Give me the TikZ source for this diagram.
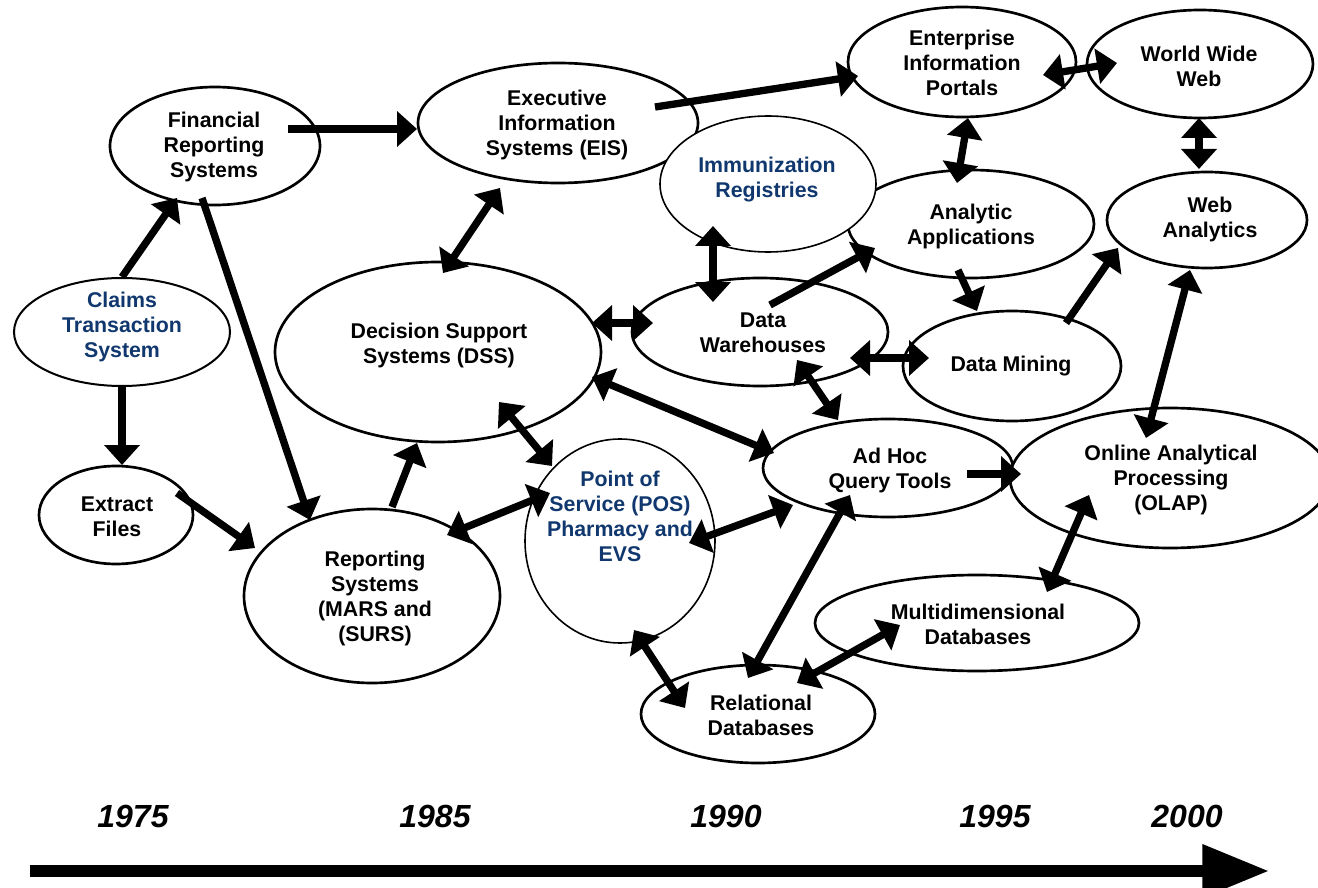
\documentclass[tikz,border=0pt]{standalone}
\usepackage{fontspec}
\setmainfont{Liberation Sans}
\usetikzlibrary{shapes.geometric,arrows.meta}
\definecolor{navy}{RGB}{16,56,110}
\tikzset{
  el/.style 2 args={ellipse, draw=black, fill=white, line width=2pt, inner sep=0pt,
    minimum width={#1*1.5pt}, minimum height={#2*1.5pt}},
  thin/.style={line width=1.2pt},
  lbl/.style={align=center, inner sep=0pt, font=\fontsize{16}{18.75}\selectfont\bfseries},
  blue/.style={text=navy},
  year/.style={inner sep=0pt, font=\fontsize{24}{28}\selectfont\bfseries\itshape},
  one/.style={line width=5.5pt, -{Triangle[length=15pt,width=26pt]}},
  two/.style={line width=5.5pt, {Triangle[length=15pt,width=26pt]}-{Triangle[length=15pt,width=26pt]}},
  timeline/.style={line width=8.5pt, -{Triangle[length=50pt,width=38pt]}}
}
\begin{document}
\begin{tikzpicture}[x=0.75pt,y=-0.75pt]
\useasboundingbox (0,0) rectangle (1318,888);
% ellipses
\node[el={105}{59}] (fin) at (215,146) {};
\node[el={108}{54}, line width=1.5pt] (claims) at (122,332) {};
\node[el={77}{49}] (extract) at (116,515) {};
\node[el={140}{60}] (eis) at (558,123) {};
\node[el={114}{55}] (eip) at (962,62) {};
\node[el={113}{54}] (www) at (1200,64) {};
\node[el={123}{54}] (ana) at (971,224) {};
\node[el={100}{48}] (weba) at (1207,220) {};
\node[el={108}{68}, thin] (imm) at (768,184) {};
\node[el={163}{90}] (dss) at (438,352) {};
\node[el={128}{54}] (dw) at (760,332) {};
\node[el={109}{55}] (dm) at (1012,366) {};
\node[el={125}{49}] (adhoc) at (888,468) {};
\node[el={160}{70}] (olap) at (1170,478) {};
\node[el={95}{102}, thin] (pos) at (620,541) {};
\node[el={128}{87}] (rep) at (372,596) {};
\node[el={162}{48}] (mdb) at (977,623) {};
\node[el={117}{49}] (rdb) at (758,714) {};
% labels
\node[lbl] (t-fin) at (214,147) {Financial\\Reporting\\Systems};
\node[lbl, blue] (t-claims) at (122,327) {Claims\\Transaction\\System};
\node[lbl] (t-extract) at (117,517) {Extract\\Files};
\node[lbl] (t-eis) at (557,125) {Executive\\Information\\Systems (EIS)};
\node[lbl, blue] (t-imm) at (767,180) {Immunization\\Registries};
\node[lbl] (t-eip) at (962,63) {Enterprise\\Information\\Portals};
\node[lbl] (t-www) at (1199,66) {World Wide\\Web};
\node[lbl] (t-ana) at (971,226) {Analytic\\Applications};
\node[lbl] (t-weba) at (1210,219) {Web\\Analytics};
\node[lbl] (t-dss) at (439,345) {Decision Support\\Systems (DSS)};
\node[lbl] (t-dw) at (763,333) {Data\\Warehouses};
\node[lbl] (t-dm) at (1011,366) {Data Mining};
\node[lbl] (t-adhoc) at (890,470) {Ad Hoc\\Query Tools};
\node[lbl] (t-olap) at (1171,480) {Online Analytical\\Processing\\(OLAP)};
\node[lbl, blue] (t-pos) at (620,516) {Point of\\Service (POS)\\Pharmacy and\\EVS};
\node[lbl] (t-rep) at (375,598) {Reporting\\Systems\\(MARS and\\(SURS)};
\node[lbl] (t-mdb) at (978,624) {Multidimensional\\Databases};
\node[lbl] (t-rdb) at (761,715) {Relational\\Databases};
% connectors
\draw[one] ([shift={(0,-55)}]claims.center) -- ([shift={(-38,52)}]fin.center);
\draw[one] ([shift={(-13,52)}]fin.center) -- ([shift={(-62,-76)}]rep.center);
\draw[one] ([shift={(0,55)}]claims.center) -- ([shift={(6,-50)}]extract.center);
\draw[one] ([shift={(61,-22)}]extract.center) -- ([shift={(-117,-48)}]rep.center);
\draw[one] ([shift={(73,-17)}]fin.center) -- ([shift={(-141,6)}]eis.center);
\draw[one] ([shift={(97,-16)}]eis.center) -- ([shift={(-104,14)}]eip.center);
\draw[two] ([shift={(5,-79)}]dss.center) -- ([shift={(-58,65)}]eis.center);
\draw[one] ([shift={(20,-89)}]rep.center) -- ([shift={(-21,91)}]dss.center);
\draw[two] ([shift={(61,50)}]dss.center) -- ([shift={(-68,-75)}]pos.center);
\draw[two] ([shift={(75,-61)}]rep.center) -- ([shift={(-70,-48)}]pos.center);
\draw[two] ([shift={(154,25)}]dss.center) -- ([shift={(-114,-15)}]adhoc.center);
\draw[two] ([shift={(154,-29)}]dss.center) -- ([shift={(-107,-9)}]dw.center);
\draw[two] ([shift={(-55,42)}]imm.center) -- ([shift={(-47,-30)}]dw.center);
\draw[one] ([shift={(10,-27)}]dw.center) -- ([shift={(-96,24)}]ana.center);
\draw[two] ([shift={(6,56)}]eip.center) -- ([shift={(-14,-41)}]ana.center);
\draw[two] ([shift={(81,13)}]eip.center) -- ([shift={(-83,-1)}]www.center);
\draw[two] ([shift={(-1,54)}]www.center) -- ([shift={(-8,-51)}]weba.center);
\draw[one] ([shift={(-13,46)}]ana.center) -- ([shift={(-35,-55)}]dm.center);
\draw[one] ([shift={(54,-43)}]dm.center) -- ([shift={(-89,28)}]weba.center);
\draw[two] ([shift={(90,26)}]dw.center) -- ([shift={(-83,-8)}]dm.center);
\draw[two] ([shift={(37,28)}]dw.center) -- ([shift={(-50,-48)}]adhoc.center);
\draw[one] ([shift={(79,6)}]adhoc.center) -- ([shift={(-149,-4)}]olap.center);
\draw[two] ([shift={(-24,-40)}]olap.center) -- ([shift={(-17,50)}]weba.center);
\draw[two] ([shift={(-81,17)}]olap.center) -- ([shift={(70,-31)}]mdb.center);
\draw[two] ([shift={(69,2)}]pos.center) -- ([shift={(-95,37)}]adhoc.center);
\draw[two] ([shift={(-38,27)}]adhoc.center) -- ([shift={(-10,-36)}]rdb.center);
\draw[two] ([shift={(14,89)}]pos.center) -- ([shift={(-73,-6)}]rdb.center);
\draw[two] ([shift={(39,-31)}]rdb.center) -- ([shift={(-77,2)}]mdb.center);
% timeline
\node[year] (y1975) at (133,816) {1975};
\node[year] (y1985) at (435,816) {1985};
\node[year] (y1990) at (726,816) {1990};
\node[year] (y1995) at (995,816) {1995};
\node[year] (y2000) at (1187,816) {2000};
\coordinate (tl0) at (30,871);
\coordinate (tl1) at (1269,871);
\draw[timeline] (tl0) -- (tl1);
\end{tikzpicture}
\end{document}
